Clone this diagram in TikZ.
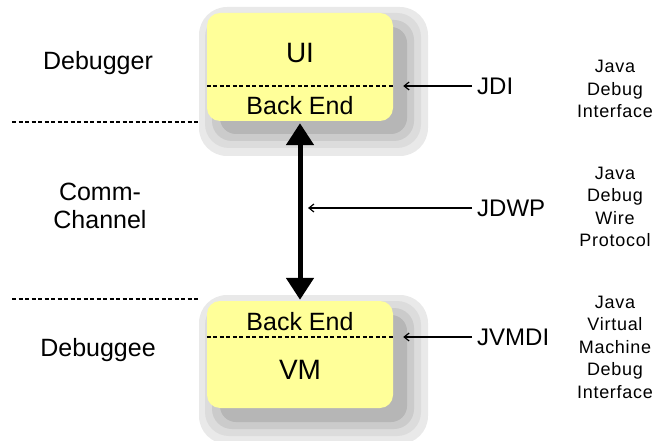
\documentclass[tikz,border=0pt]{standalone}
\usepackage{fontspec}
\setmainfont{Liberation Sans}
\newfontfamily\notefont[LetterSpace=4]{Liberation Sans}
\usepackage{tikz}
\usetikzlibrary{arrows.meta, positioning}

\definecolor{boxyellow}{RGB}{255,255,153}
\definecolor{haloA}{RGB}{233,233,233}
\definecolor{haloB}{RGB}{220,220,220}
\definecolor{haloC}{RGB}{203,203,203}
\definecolor{haloD}{RGB}{182,182,182}

\begin{document}
\begin{tikzpicture}[x=1pt, y=-1pt, every node/.style={font=\fontsize{25}{28}\selectfont, inner sep=0pt}]
    % Styles
    \tikzstyle{tier} = [rectangle, fill=boxyellow, rounded corners=13pt, minimum width=186pt, minimum height=108pt]
    \tikzstyle{big} = [font=\fontsize{28}{32}\selectfont]
    \tikzstyle{iface} = [anchor=west, inner xsep=5pt, font=\fontsize{24}{28}\selectfont]
    \tikzstyle{note} = [align=center, font=\notefont\fontsize{18}{22.5}\selectfont]
    \tikzstyle{divider} = [dash pattern=on 4pt off 2.5pt, line width=2pt]
    \tikzstyle{pointer} = [-{Straight Barb[length=5pt, width=8pt]}, line width=1.2pt]
    \tikzstyle{link} = [{Triangle[width=27pt, length=22pt]}-{Triangle[width=27pt, length=22pt]}, line width=5pt]

    \useasboundingbox (0,0) rectangle (656,441);

    % Soft shadows behind the two boxes
    \fill[haloA, rounded corners=28pt] (199,7) rectangle (428,156);
    \fill[haloB, rounded corners=24pt] (205,13) rectangle (421,148);
    \fill[haloC, rounded corners=20pt] (212,20) rectangle (414,141);
    \fill[haloD, rounded corners=16pt] (220,27) rectangle (407,134);

    \fill[haloA, rounded corners=28pt] (199,295) rectangle (428,444);
    \fill[haloB, rounded corners=24pt] (205,301) rectangle (421,436);
    \fill[haloC, rounded corners=20pt] (212,308) rectangle (414,429);
    \fill[haloD, rounded corners=16pt] (220,315) rectangle (407,422);

    % Nodes
    \node[tier] (dbg) at (300,67) {};
    \node[tier, minimum height=107pt] (dbgee) at (300,354.5) {};

    \node[big] (ui) at (300,53) {UI};
    \node (backtop) at (300,106) {Back End};
    \node (backbot) at (300,322) {Back End};
    \node[big] (vm) at (300,370) {VM};

    \node (debugger) at (98,63) {Debugger};
    \node[align=center] (channel) at (100,206) {Comm-\\Channel};
    \node (debuggee) at (98,350) {Debuggee};

    \node[iface] (jdi) at (472,86) {JDI};
    \node[iface] (jdwp) at (472,208) {JDWP};
    \node[iface] (jvmdi) at (472,337) {JVMDI};

    \node[note] (jdinote) at (615,89) {Java\\Debug\\Interface};
    \node[note] (jdwpnote) at (615,207) {Java\\Debug\\Wire\\Protocol};
    \node[note] (jvmdinote) at (615,347) {Java\\Virtual\\Machine\\Debug\\Interface};

    \coordinate (topsepL) at (12,122);
    \coordinate (topsepR) at (200,122);
    \coordinate (botsepL) at (12,299);
    \coordinate (botsepR) at (200,299);

    % Connections
    \draw[divider] (dbg.west |- jdi.west) -- (dbg.east |- jdi.west);
    \draw[divider] (dbgee.west |- jvmdi.west) -- (dbgee.east |- jvmdi.west);
    \draw[divider] (topsepL) -- (topsepR);
    \draw[divider] (botsepL) -- (botsepR);

    \draw[link, shorten <=2pt, shorten >=1pt] (dbg.south) -- (dbgee.north);

    \draw[pointer] (jdi.west) -- ([xshift=10pt]dbg.east |- jdi.west);
    \draw[pointer] (jdwp.west) -- ([xshift=8pt]dbg.south |- jdwp.west);
    \draw[pointer] (jvmdi.west) -- ([xshift=10pt]dbgee.east |- jvmdi.west);
\end{tikzpicture}
\end{document}
